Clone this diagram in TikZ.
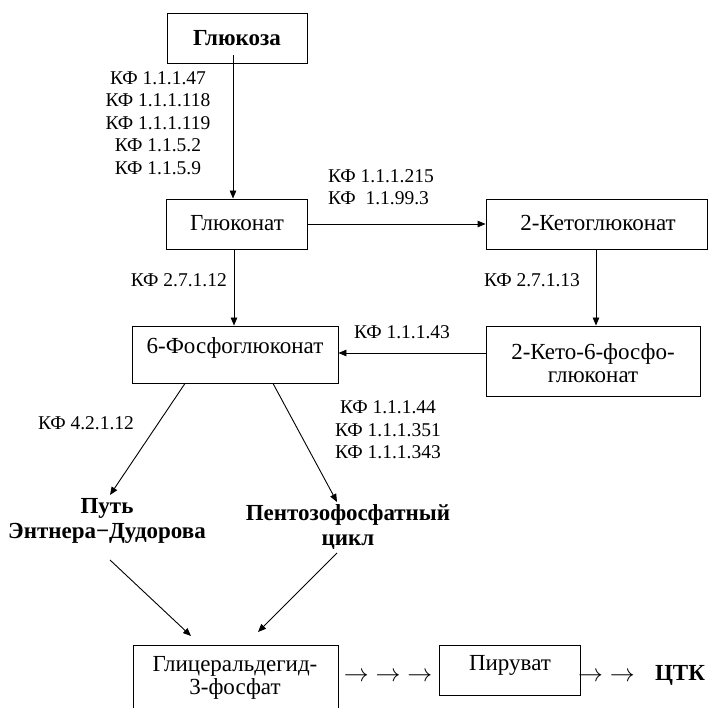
\documentclass[tikz,border=0pt]{standalone}
\usepackage{fontspec}
\setmainfont{Liberation Serif}
\usetikzlibrary{arrows.meta,calc}
\tikzset{
  box/.style={draw, line width=0.9pt, inner sep=0pt},
  lab/.style={inner sep=0pt, align=center, font=\fontsize{19.5}{22.5}\selectfont},
  btxt/.style={inner sep=0pt, align=center, font=\fontsize{23}{23}\selectfont},
  bold/.style={inner sep=0pt, align=center, font=\fontsize{23}{25}\selectfont\bfseries},
  arr/.style={line width=0.9pt, -{Triangle[length=8pt,width=6.5pt]}},
  ln/.style={line width=0.9pt}
}
\begin{document}
\begin{tikzpicture}[x=1pt,y=-1pt]
\useasboundingbox (0,0) rectangle (709,708);
% boxes
\node[box, minimum width=140pt, minimum height=50pt] (glc) at (237,38) {};
\node[bold] (glct) at (237,38) {Глюкоза};
\node[box, minimum width=141pt, minimum height=50pt] (gln) at (236.5,224) {};
\node[btxt] (glnt) at (237,223) {Глюконат};
\node[box, minimum width=221pt, minimum height=50pt] (kgl) at (596.5,224) {};
\node[btxt] (kglt) at (598,223) {2-Кетоглюконат};
\node[box, minimum width=206pt, minimum height=57pt] (phos) at (235,354.5) {};
\node[btxt] (phost) at (235,348) {6-Фосфоглюконат};
\node[box, minimum width=214pt, minimum height=70pt] (kphos) at (593,361) {};
\node[btxt] (kphost) at (593,363.5) {2-Кето-6-фосфо-\\глюконат};
\node[box, minimum width=205pt, minimum height=67pt] (gap) at (235.5,678.5) {};
\node[btxt] (gapt) at (235,678) {Глицеральдегид-\\3-фосфат};
\node[box, minimum width=141pt, minimum height=50pt] (pyr) at (509.5,670) {};
\node[btxt] (pyrt) at (510,665) {Пируват};
% pathway labels
\node[bold] (ed) at (107,521) {Путь\\Энтнера−Дудорова};
\node[bold] (ppp) at (348,527) {Пентозофосфатный\\цикл};
\node[bold] (tca) at (680,675) {ЦТК};
\node[btxt] (arr3) at (388,677) {$\rightarrow\;\rightarrow\;\rightarrow$};
\node[btxt, anchor=west] (arr2) at (578,677) {$\rightarrow\;\rightarrow$};
% enzyme labels
\node[lab] (e1) at (158,123) {КФ 1.1.1.47\\КФ 1.1.1.118\\КФ 1.1.1.119\\КФ 1.1.5.2\\КФ 1.1.5.9};
\node[lab, align=left, anchor=west] (e2) at (328,187) {КФ 1.1.1.215\\КФ\ \ 1.1.99.3};
\node[lab, anchor=east] (e3) at (227,280) {КФ 2.7.1.12};
\node[lab] (e4) at (532,280) {КФ 2.7.1.13};
\node[lab] (e5) at (402,332) {КФ 1.1.1.43};
\node[lab] (e6) at (86,423) {КФ 4.2.1.12};
\node[lab] (e7) at (388,430) {КФ 1.1.1.44\\КФ 1.1.1.351\\КФ 1.1.1.343};
% connector end points
\coordinate (edtip) at (110,495);
\coordinate (ppptip) at (337,502);
\coordinate (edout) at (110,560);
\coordinate (pppout) at (337,553);
\coordinate (gapin1) at (191,636);
\coordinate (gapin2) at (258,632);
% connectors
\draw[arr] ([xshift=-4pt,yshift=8pt]glc.south) -- ([xshift=-4pt]glc.south |- gln.north);
\draw[arr] (gln.east) -- (kgl.west);
\draw[arr] ([xshift=-2.5pt]gln.south) -- ([xshift=-2.5pt]gln.south |- phos.north);
\draw[arr] ([xshift=-0.5pt]kgl.south) -- ([xshift=-0.5pt]kgl.south |- kphos.north);
\draw[arr] ([yshift=8pt]kphos.west) -- ([yshift=8pt]kphos.west -| phos.east);
\draw[arr] ([xshift=-50pt]phos.south) -- (edtip);
\draw[arr] ([xshift=38pt]phos.south) -- (ppptip);
\draw[arr] (edout) -- (gapin1);
\draw[arr] (pppout) -- (gapin2);
\end{tikzpicture}
\end{document}
